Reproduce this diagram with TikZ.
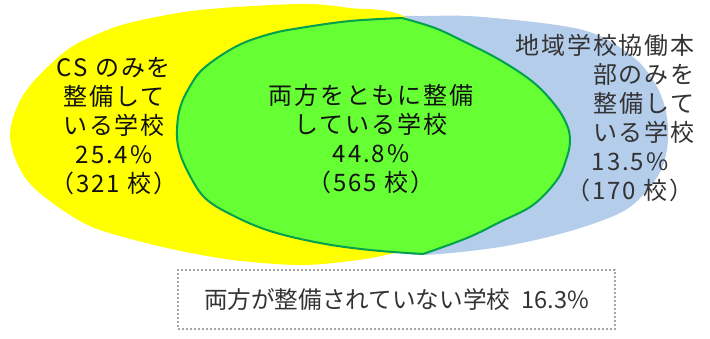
\documentclass[tikz,border=0pt]{standalone}
\usepackage{fontspec}
\setmainfont{Noto Sans CJK JP}
\newfontfamily\jpsp[LetterSpace=8]{Noto Sans CJK JP}
\newfontfamily\jpbox{Noto Sans CJK JP}
\definecolor{ylw}{HTML}{FFFF00}
\definecolor{blu}{HTML}{B4CDEB}
\definecolor{grn}{HTML}{66FF33}
\definecolor{grnb}{HTML}{00A04E}
\definecolor{txtk}{HTML}{111111}
\definecolor{txtg}{HTML}{333333}
\definecolor{dotg}{HTML}{A6A6A6}
\begin{document}
\begin{tikzpicture}[x=1pt,y=-1pt,
  lbl/.style={inner sep=0pt, align=center, text=txtk, font={\jpsp\fontsize{24}{29}\selectfont}},
  lblg/.style={lbl, text=txtg},
  nonebox/.style={draw=dotg, line width=1.6pt, dash pattern=on 2pt off 2pt, inner sep=0pt,
    minimum width=437pt, minimum height=59pt, text=txtg, font={\jpbox\fontsize{23.6}{28}\selectfont}}]
\useasboundingbox (0,0) rectangle (710,338);
% blue set
\fill[blu] plot[smooth cycle, tension=0.55] coordinates {
 (330,18) (420,16) (483,17) (583,30) (633,57) (656,85) (666,112) (668,140)
 (662,168) (645,193) (620,213) (567,232) (500,247) (423,255) (390,250)
 (330,244) (260,210) (240,137) (260,40)};
% yellow set
\fill[ylw] plot[smooth cycle, tension=0.55] coordinates {
 (10,135) (17,107) (33,82) (67,50) (100,33) (133,22) (200,10) (300,4) (350,8)
 (405,17) (460,70) (505,134) (490,200) (440,238) (390,254) (350,261) (300,265)
 (233,260) (167,248) (100,230) (67,213) (33,187) (17,163)};
% intersection
\filldraw[fill=grn, draw=grnb, line width=2pt, line join=round]
 plot[smooth, tension=0.6] coordinates {
 (423,254) (370,250) (320,243) (270,231) (232,215) (205,198) (189,174) (179,150)
 (177,130) (180,108) (189,88) (204,68) (237,46) (270,34) (300,28) (350,21) (402,18)}
 -- plot[smooth, tension=0.6] coordinates {
 (402,18) (435,28) (467,43) (500,60) (533,82) (555,105) (567,125) (570,142)
 (566,160) (557,180) (533,205) (500,222) (467,238) (423,254)} -- cycle;
% labels
\node[lbl] (csonly) at (114,126.5) {CS のみを\\整備して\\いる学校\\25.4\%\\（321 校）};
\node[lbl] (both) at (371,139) {両方をともに整備\\している学校\\44.8\%\\（565 校）};
\node[lblg, align=right, anchor=east] (chiiki) at (695,89) {地域学校協働本\\部のみを\\整備して\\いる学校};
\node[lblg] (chiikin) at (630,177.5) {13.5\%\\（170 校）};
\node[nonebox] (none) at (396.5,299.5) {両方が整備されていない学校\hspace{11pt}16.3\%};
\end{tikzpicture}
\end{document}
